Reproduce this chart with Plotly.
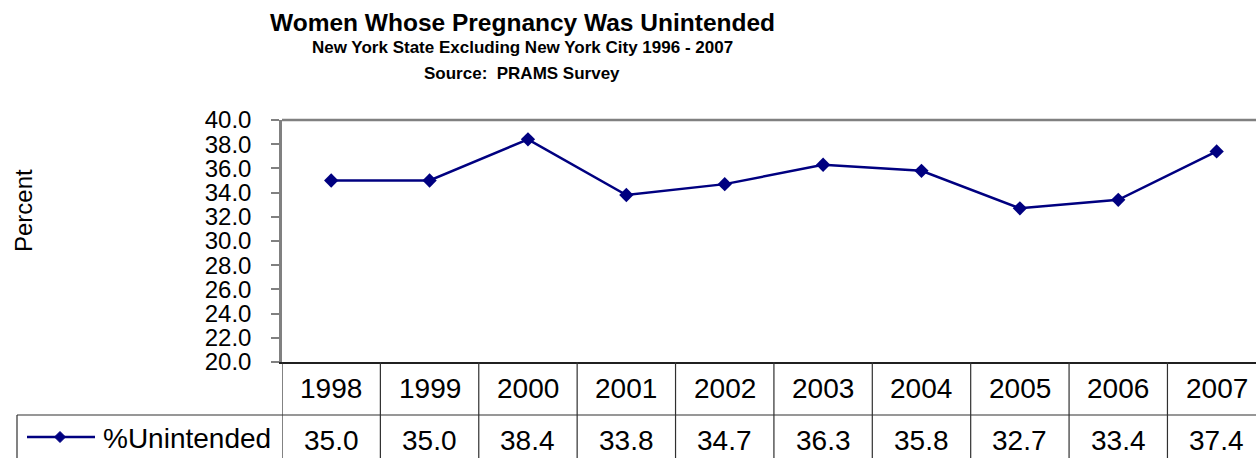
import plotly.graph_objects as go

years = ["1998", "1999", "2000", "2001", "2002", "2003", "2004", "2005", "2006", "2007"]
unintended = [35.0, 35.0, 38.4, 33.8, 34.7, 36.3, 35.8, 32.7, 33.4, 37.4]
series_name = "%Unintended"
y_ticks = [20, 22, 24, 26, 28, 30, 32, 34, 36, 38, 40]

W, H = 1256, 458
L, T, B = 282, 120, 96
PW = W - L
PH = H - T - B

def px_x(p):
    return (p - L) / PW

def px_y(p):
    return (H - B - p) / PH

NAVY = "#000080"
FONT = "Liberation Sans, Arial, sans-serif"

fig = go.Figure()
fig.add_trace(go.Scatter(
    x=list(range(len(years))), y=unintended, mode="lines+markers",
    line=dict(color=NAVY, width=2.5),
    marker=dict(symbol="diamond", size=11, color=NAVY),
    name=series_name, showlegend=False, cliponaxis=False,
))

shapes = []
annotations = []

# top border of plot area
shapes.append(dict(type="line", xref="paper", yref="paper", x0=0, x1=1, y0=1, y1=1,
                   line=dict(color="#808080", width=2.5)))
# table horizontal lines
shapes.append(dict(type="line", xref="paper", yref="paper", x0=px_x(17), x1=1,
                   y0=px_y(415), y1=px_y(415), line=dict(color="#303030", width=1.2)))
# legend cell left border
shapes.append(dict(type="line", xref="paper", yref="paper", x0=px_x(17), x1=px_x(17),
                   y0=px_y(415), y1=px_y(470), line=dict(color="#303030", width=1.2)))
# column boundaries
for i in range(len(years) + 1):
    shapes.append(dict(type="line", xref="x", yref="paper", x0=i - 0.5, x1=i - 0.5,
                       y0=0, y1=px_y(470), line=dict(color="#303030", width=1.2)))
# legend sample line + diamond
shapes.append(dict(type="line", xref="paper", yref="paper", x0=px_x(27), x1=px_x(95),
                   y0=px_y(437), y1=px_y(437), line=dict(color=NAVY, width=2.5)))
cx, cy, r = 60, 437, 5.5
shapes.append(dict(type="path", xref="paper", yref="paper",
                   path=f"M {px_x(cx-r)} {px_y(cy)} L {px_x(cx)} {px_y(cy-r)} L {px_x(cx+r)} {px_y(cy)} L {px_x(cx)} {px_y(cy+r)} Z",
                   fillcolor=NAVY, line=dict(color=NAVY, width=1)))

for i, (yr, v) in enumerate(zip(years, unintended)):
    annotations.append(dict(x=i, y=px_y(388), xref="x", yref="paper", text=yr, showarrow=False,
                            font=dict(size=28, color="black", family=FONT), xanchor="center", yanchor="middle"))
    annotations.append(dict(x=i, y=px_y(440), xref="x", yref="paper", text=f"{v:.1f}", showarrow=False,
                            font=dict(size=28, color="black", family=FONT), xanchor="center", yanchor="middle"))

annotations.append(dict(x=px_x(101), y=px_y(438), xref="paper", yref="paper", text=series_name,
                        showarrow=False, font=dict(size=28, color="black", family=FONT),
                        xanchor="left", yanchor="middle"))

annotations.append(dict(x=px_x(23), y=px_y(211), xref="paper", yref="paper", text="Percent",
                        showarrow=False, textangle=-90, font=dict(size=24, color="black", family=FONT),
                        xanchor="center", yanchor="middle"))

titles = [("<b>Women Whose Pregnancy Was Unintended</b>", 24.5, 23),
          ("<b>New York State Excluding New York City 1996 - 2007</b>", 17, 47),
          ("<b>Source:  PRAMS Survey</b>", 17, 73)]
for txt, sz, yp in titles:
    annotations.append(dict(x=px_x(522), y=px_y(yp), xref="paper", yref="paper", text=txt,
                            showarrow=False, font=dict(size=sz, color="black", family=FONT),
                            xanchor="center", yanchor="middle"))

fig.update_layout(
    width=W, height=H,
    margin=dict(l=L, r=0, t=T, b=B, pad=0, autoexpand=False),
    paper_bgcolor="white", plot_bgcolor="white",
    showlegend=False,
    shapes=shapes, annotations=annotations,
    xaxis=dict(range=[-0.5, len(years) - 0.6], showticklabels=False, showgrid=False, automargin=False,
               zeroline=False, showline=True, linecolor="#202020", linewidth=1.5, ticks=""),
    yaxis=dict(range=[20, 40], tickvals=y_ticks, tickformat=".1f", showgrid=False, automargin=False,
               zeroline=False, showline=True, linecolor="#808080", linewidth=2.5,
               ticks="outside", ticklen=8, tickcolor="#808080", tickwidth=1.5,
               ticklabelstandoff=15,
               tickfont=dict(size=24, color="black", family=FONT)),
    font=dict(family=FONT, color="black"),
)

fig.write_html("out.html", config={"displayModeBar": False},
               post_script="document.body.style.margin='0';document.body.style.overflow='hidden';")
